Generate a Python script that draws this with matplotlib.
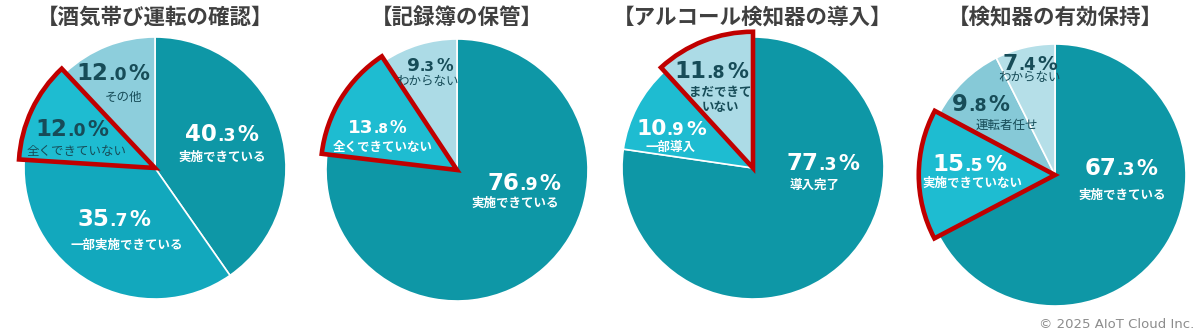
import matplotlib
matplotlib.use("Agg")
import matplotlib.pyplot as plt

W, H = 1200, 336

titles = ["【酒気帯び運転の確認】", "【記録簿の保管】", "【アルコール検知器の導入】", "【検知器の有効保持】"]
values = [
    [40.3, 35.7, 12.0, 12.0],
    [76.9, 13.8, 9.3],
    [77.3, 10.9, 11.8],
    [67.3, 15.5, 9.8, 7.4],
]
labels = [
    ["実施できている", "一部実施できている", "全くできていない", "その他"],
    ["実施できている", "全くできていない", "わからない"],
    ["導入完了", "一部導入", "まだできて\nいない"],
    ["実施できている", "実施できていない", "運転者任せ", "わからない"],
]
highlight = [2, 1, 2, 1]

# styling
TEAL, MID, CYAN, LIGHT, PALE = "#0E97A6", "#12A8BD", "#1EBCD1", "#8DCEDC", "#ACDBE6"
colors = [
    [TEAL, MID, CYAN, LIGHT],
    [TEAL, CYAN, PALE],
    [TEAL, CYAN, PALE],
    [TEAL, CYAN, "#86C9D7", "#B5DFE8"],
]
WHITE, DARK = "white", "#174C58"
text_colors = [
    [WHITE, WHITE, DARK, DARK],
    [WHITE, WHITE, DARK],
    [WHITE, WHITE, DARK],
    [WHITE, WHITE, DARK, DARK],
]
label_bold = [
    [True, True, False, False],
    [True, True, False],
    [True, True, True],
    [True, True, False, False],
]
num_scale = [
    [1, 1, 1, 1],
    [1, 0.8, 0.8],
    [1, 0.95, 1],
    [1, 1, 1, 0.95],
]

# layout in pixels, measured from the top-left corner
centers = [(155, 168), (457, 170), (753, 168), (1055, 175)]
RADIUS = 131
HL_GROW = 1.04
# (number dx, dy, label dx, dy) relative to the pie centre
text_pos = [
    [(67, -35, 67, -11), (-41, 50, -28, 77), (-83, -40, -78, -16), (-42, -96, -32, -71)],
    [(67, 12, 58, 33), (-80, -43, -74, -23), (-27, -105, -29, -88)],
    [(70, -6, 62, 17), (-82, -41, -83, -21), (-42, -98, -33, -68)],
    [(66, -8, 67, 20), (-86, -12, -83, 8), (-74, -72, -48, -50), (-25, -113, -25, -97)],
]

JP = ["Noto Sans CJK JP", "DejaVu Sans"]


def draw_pct(ax, renderer, x, y, value, color, scale):
    # big whole part, small decimals, wide-set percent sign
    whole, frac = f"{value:.1f}".split(".")
    parts = [(whole, 16.5 * scale, 0), ("." + frac, 12.5 * scale, 0), ("%", 15 * scale, 2 * scale)]
    texts = [ax.text(0, y, s, fontsize=size, fontweight="bold", color=color,
                     family="DejaVu Sans", ha="left", va="baseline", zorder=5)
             for s, size, _ in parts]
    widths = [t.get_window_extent(renderer).width + gap for t, (_, _, gap) in zip(texts, parts)]
    x0 = x - sum(widths) / 2
    for t, w, (_, _, gap) in zip(texts, widths, parts):
        t.set_x(x0 + gap)
        x0 += w


fig = plt.figure(figsize=(W / 100, H / 100), dpi=100)
ax = fig.add_axes([0, 0, 1, 1])
renderer = fig.canvas.get_renderer()

for i, vals in enumerate(values):
    cx, cy = centers[i]
    wedges, _ = ax.pie(vals, colors=colors[i], startangle=90, counterclock=False,
                       radius=RADIUS, center=(cx, H - cy),
                       wedgeprops=dict(edgecolor="white", linewidth=1.2), frame=True)
    hw = wedges[highlight[i]]
    hw.set_radius(RADIUS * HL_GROW)
    hw.set_edgecolor("#C00000")
    hw.set_linewidth(3.3)
    hw.set_joinstyle("miter")
    hw.set_zorder(3)

    ax.text(cx, H - 17, titles[i], family=JP, fontsize=15.5, fontweight="bold",
            color="#404040", ha="center", va="center")

    for j, v in enumerate(vals):
        ndx, ndy, ldx, ldy = text_pos[i][j]
        sc = num_scale[i][j]
        draw_pct(ax, renderer, cx + ndx, H - (cy + ndy + 8 * sc), v, text_colors[i][j], sc)
        ax.text(cx + ldx, H - (cy + ldy), labels[i][j], family=JP, fontsize=9,
                fontweight="bold" if label_bold[i][j] else "normal",
                color=text_colors[i][j], ha="center", va="center",
                linespacing=1.15, zorder=5)

ax.text(1194, H - 325, "© 2025 AIoT Cloud Inc.", family="DejaVu Sans", fontsize=9.5,
        color="#8C8C8C", ha="right", va="center")

ax.set_xlim(0, W)
ax.set_ylim(0, H)
ax.set_aspect("auto")
ax.axis("off")

fig.savefig("out.png", dpi=100)
